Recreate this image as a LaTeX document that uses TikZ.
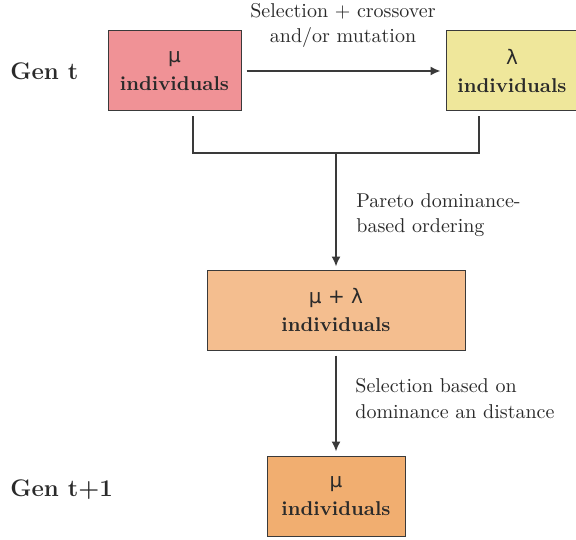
\documentclass[tikz,border=0pt]{standalone}
\usepackage{fontspec}
\newfontfamily\symfont{DejaVu Sans}
\usetikzlibrary{arrows.meta}
\definecolor{boxA}{HTML}{F09296}
\definecolor{boxB}{HTML}{EFE79B}
\definecolor{boxC}{HTML}{F4BE8F}
\definecolor{boxD}{HTML}{F1AE70}
\definecolor{ink}{HTML}{3A3A3A}
\definecolor{txt}{HTML}{2A2A2A}
\tikzset{
  popbox/.style={draw=ink, line width=0.5pt, minimum height=40pt, inner sep=0pt,
    align=center, font=\bfseries\linespread{1.2}\selectfont, text=txt},
  conn/.style={draw=ink, line width=0.8pt},
  arr/.style={conn, -{Latex[length=5pt,width=4.5pt]}},
  lbl/.style={inner sep=0pt, font=\linespread{1.05}\selectfont, text=txt},
  gen/.style={inner sep=0pt, anchor=west, font=\large\bfseries, text=txt}
}
\newcommand{\gk}[1]{{\symfont\mdseries #1}}
\begin{document}
\begin{tikzpicture}[x=0.5pt,y=-0.5pt]
\useasboundingbox (0,0) rectangle (576,539);
\node[popbox, fill=boxA, minimum width=66.5pt] (b1) at (174.5,71) {\gk{μ}\\individuals};
\node[popbox, fill=boxB, minimum width=66pt] (b2) at (512,71) {\gk{λ}\\individuals};
\node[popbox, fill=boxC, minimum width=129pt] (b3) at (336,310) {\gk{μ + λ}\\individuals};
\node[popbox, fill=boxD, minimum width=69pt] (b4) at (336,496) {\gk{μ}\\individuals};
\node[gen] (g1) at (10,71) {Gen t};
\node[gen] (g2) at (10,490) {Gen t+1};
\node[lbl, align=center] (l1) at (343,25.5) {Selection + crossover\\and/or mutation};
\node[lbl, align=left, anchor=west] (l2) at (356,215.5) {Pareto dominance-\\based ordering};
\node[lbl, align=left, anchor=west] (l3) at (355,398.5) {Selection based on\\dominance an distance};
\coordinate (c1) at (193,153);
\coordinate (c2) at (479,153);
\coordinate (j) at (336,153);
\draw[arr, shorten <=2.5pt, shorten >=2.5pt] (b1.east) -- (b2.west);
\draw[conn, shorten <=2.5pt, shorten >=2.5pt] (b1.south -| c1) -- (c1) -- (c2) -- (b2.south -| c2);
\draw[arr, shorten >=1.5pt] (j) -- (b3.north);
\draw[arr, shorten <=2.5pt, shorten >=2pt] (b3.south) -- (b4.north);
\end{tikzpicture}
\end{document}
